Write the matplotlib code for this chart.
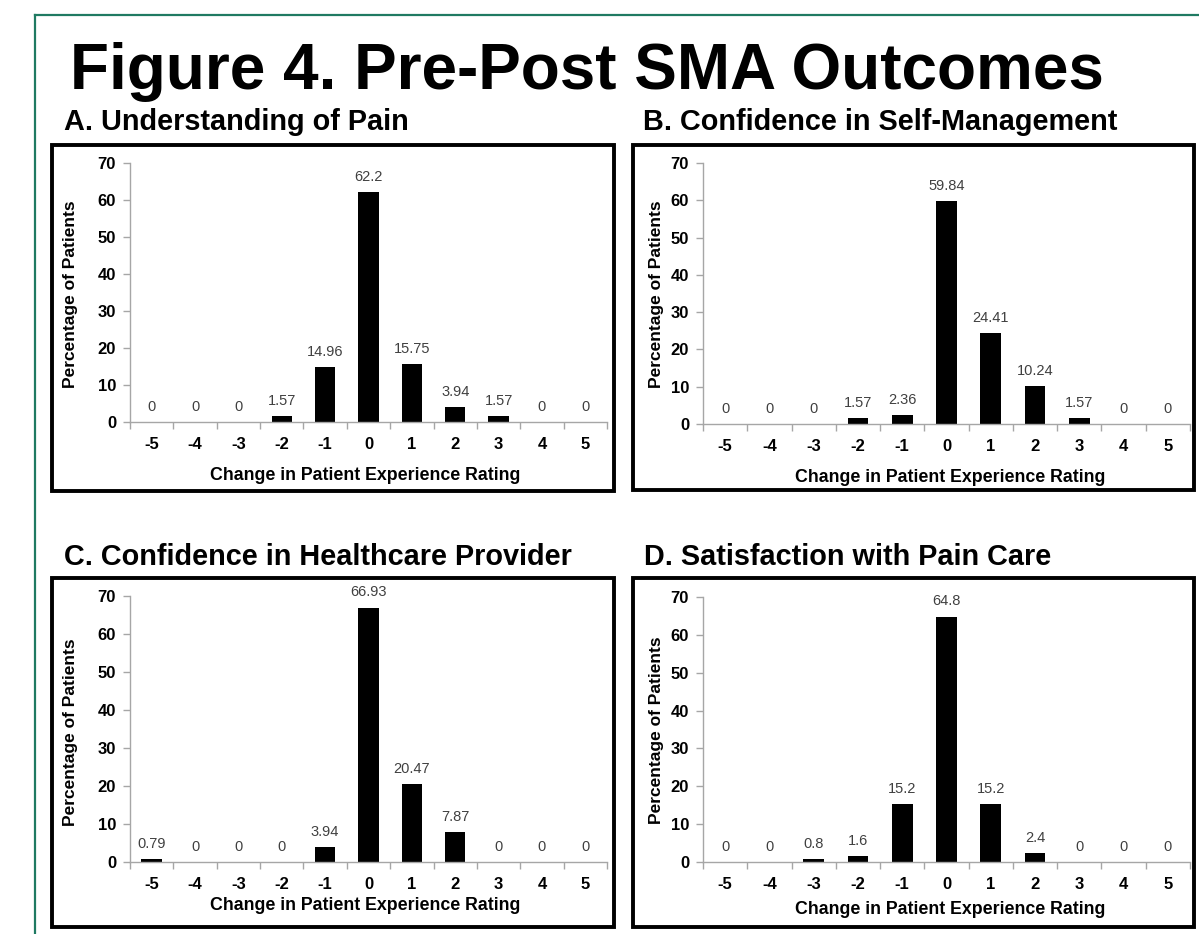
import matplotlib
matplotlib.use("Agg")
import matplotlib.pyplot as plt
from matplotlib.patches import Rectangle
from matplotlib.lines import Line2D
from matplotlib.ticker import FixedLocator

plt.rcParams['font.family'] = ['Liberation Sans', 'DejaVu Sans']
plt.rcParams['axes.unicode_minus'] = False

categories = [-5, -4, -3, -2, -1, 0, 1, 2, 3, 4, 5]
values_a = [0, 0, 0, 1.57, 14.96, 62.2, 15.75, 3.94, 1.57, 0, 0]
values_b = [0, 0, 0, 1.57, 2.36, 59.84, 24.41, 10.24, 1.57, 0, 0]
values_c = [0.79, 0, 0, 0, 3.94, 66.93, 20.47, 7.87, 0, 0, 0]
values_d = [0, 0, 0.8, 1.6, 15.2, 64.8, 15.2, 2.4, 0, 0, 0]
y_ticks = [0, 10, 20, 30, 40, 50, 60, 70]

main_title = "Figure 4. Pre-Post SMA Outcomes"
panel_titles = ["A. Understanding of Pain",
                "B. Confidence in Self-Management",
                "C. Confidence in Healthcare Provider",
                "D. Satisfaction with Pain Care"]
x_label = "Change in Patient Experience Rating"
y_label = "Percentage of Patients"

W, H = 1199, 934
fig = plt.figure(figsize=(W / 100, H / 100), dpi=100)

def fx(px):
    return px / W

def fy(py):
    return 1 - py / H

# green outer border
fig.add_artist(Line2D([fx(35), fx(35)], [fy(15), fy(934)], color="#1f7a62", lw=1.6))
fig.add_artist(Line2D([fx(35), fx(1199)], [fy(15), fy(15)], color="#1f7a62", lw=1.6))

fig.text(fx(70), fy(89), main_title, fontsize=46, fontweight="bold", ha="left", va="baseline")

# panel layout: data, box (l, t, r, b), axes (l, t, r, b), title pos, xlabel center, ylabel center
panels = [
    (values_a, (52, 145, 614, 491), (130, 163, 607, 422), (64, 130), (365, 476), (71, 294)),
    (values_b, (633, 145, 1194, 490), (703, 163, 1190, 424), (643, 130), (950, 477), (657, 294)),
    (values_c, (52, 578, 614, 927), (130, 596, 607, 862), (64, 565), (365, 906), (71, 732)),
    (values_d, (633, 578, 1194, 927), (703, 597, 1190, 862), (644, 565), (950, 910), (657, 730)),
]

gray = "#a6a6a6"
for (vals, box, axr, tpos, xlc, ylc), title in zip(panels, panel_titles):
    bl, bt, br, bb = box
    fig.add_artist(Rectangle((fx(bl), fy(bb)), fx(br - bl), (bb - bt) / H,
                             fill=False, edgecolor="black", lw=2.8,
                             transform=fig.transFigure))
    fig.text(fx(tpos[0]), fy(tpos[1]), title, fontsize=20.8, fontweight="bold",
             ha="left", va="baseline")
    al, at, ar, ab = axr
    ax = fig.add_axes([fx(al), fy(ab), fx(ar - al), (ab - at) / H])
    ax.bar(categories, vals, width=0.47, color="black")
    for c, v in zip(categories, vals):
        ax.text(c, v + 2.2, f"{v:g}", ha="center", va="bottom", fontsize=10.5,
                color="#404040")
    ax.set_xlim(-5.5, 5.5)
    ax.set_ylim(0, 70)
    ax.set_yticks(y_ticks)
    ax.set_xticks(categories)
    ax.xaxis.set_minor_locator(FixedLocator([c + 0.5 for c in [-6] + categories]))
    ax.tick_params(axis="x", which="major", length=0, pad=11, labelsize=12)
    ax.tick_params(axis="x", which="minor", length=5, color=gray, width=1)
    ax.tick_params(axis="y", which="major", length=5, color=gray, width=1,
                   labelsize=12, pad=5)
    for lab in ax.get_xticklabels() + ax.get_yticklabels():
        lab.set_fontweight("bold")
    for s in ["top", "right"]:
        ax.spines[s].set_visible(False)
    for s in ["left", "bottom"]:
        ax.spines[s].set_color(gray)
        ax.spines[s].set_linewidth(1)
    ax.patch.set_alpha(0)
    fig.text(fx(xlc[0]), fy(xlc[1]), x_label, fontsize=12.8, fontweight="bold",
             ha="center", va="center")
    fig.text(fx(ylc[0]), fy(ylc[1]), y_label, fontsize=12.5, fontweight="bold",
             ha="center", va="center", rotation=90)

fig.savefig("out.png", dpi=100)
